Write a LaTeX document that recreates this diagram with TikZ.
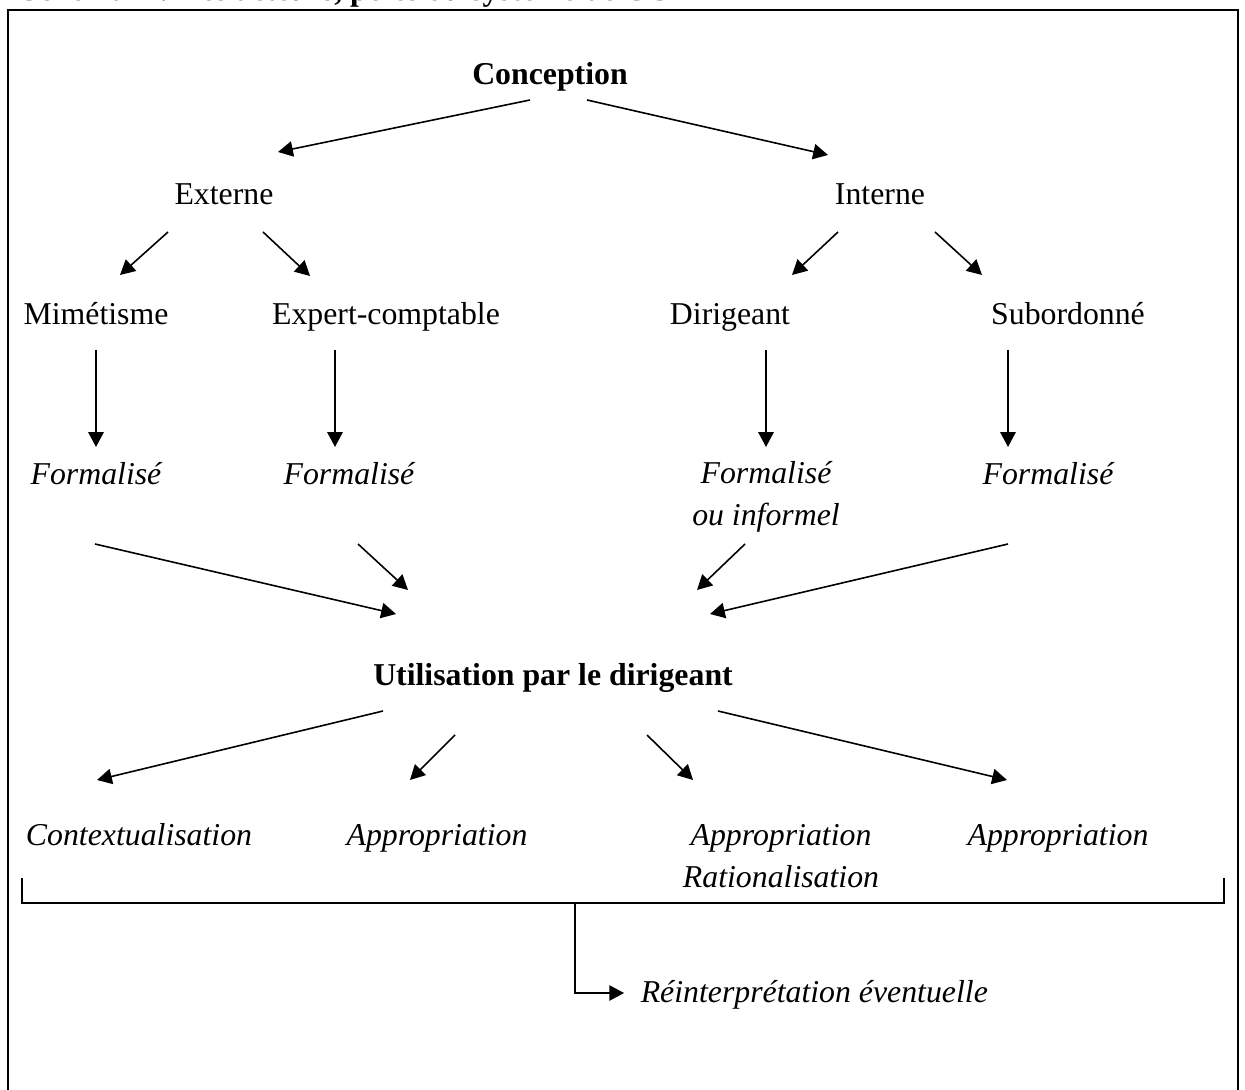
\documentclass[tikz,border=0pt]{standalone}
\usepackage{fontspec}
\setmainfont{Liberation Serif}
\usetikzlibrary{arrows.meta}

\begin{document}
\begin{tikzpicture}[x=0.3774pt, y=-0.3774pt, line width=0.6pt,
    every node/.style={inner sep=0pt, font=\fontsize{12pt}{15.8pt}\selectfont},
    actor/.style={text height=9.5pt, text depth=2.5pt},
    head/.style={actor, font=\fontsize{12pt}{15.8pt}\selectfont\bfseries},
    mode/.style={actor, font=\fontsize{12pt}{15.8pt}\selectfont\itshape},
    modes/.style={align=center, font=\fontsize{12pt}{15.8pt}\selectfont\itshape},
    >={Triangle[length=5.6pt,width=5.8pt]}]
        \useasboundingbox (0,0) rectangle (1245,1090);
        \clip (0,0) rectangle (1245,1090);
        \node[overlay, anchor=base west, font=\fontsize{12pt}{15.8pt}\selectfont\bfseries] (titre) at (20,0.5) {Schéma 1 : Les acteurs, pôles du système de CG};
        \draw[line width=0.75pt] (8,1095) -- (8,10) -- (1238,10) -- (1238,1095);
        % conception
        \node[head] (conc) at (550,75) {Conception};
        \node[actor] (ext) at (224,195) {Externe};
        \node[actor] (int) at (880,195) {Interne};
        \node[actor] (mim) at (96,315) {Mimétisme};
        \node[actor] (exp) at (386,315) {Expert-comptable};
        \node[actor] (dir) at (730,315) {Dirigeant};
        \node[actor] (sub) at (1068,315) {Subordonné};
        \node[mode] (fm1) at (96,475) {Formalisé};
        \node[mode] (fm2) at (349,475) {Formalisé};
        \node[modes] (fm3) at (766,497) {Formalisé\\ou informel};
        \node[mode] (fm4) at (1048,475) {Formalisé};
        \draw[->] ([shift={(-20,25)}]conc.center) -- ([shift={(54,-43)}]ext.center);
        \draw[->] ([shift={(37,25)}]conc.center) -- ([shift={(-52,-40)}]int.center);
        \draw[->] ([shift={(-56,37)}]ext.center) -- ([shift={(24,-40)}]mim.center);
        \draw[->] ([shift={(39,37)}]ext.center) -- ([shift={(-76,-39)}]exp.center);
        \draw[->] ([shift={(-42,37)}]int.center) -- ([shift={(62,-40)}]dir.center);
        \draw[->] ([shift={(55,37)}]int.center) -- ([shift={(-86,-40)}]sub.center);
        \draw[->] ([shift={(0,35)}]mim.center) -- ([shift={(0,-28)}]fm1.center);
        \draw[->] ([shift={(-51,35)}]exp.center) -- ([shift={(-14,-28)}]fm2.center);
        \draw[->] ([shift={(36,35)}]dir.center) -- ([shift={(0,-50)}]fm3.center);
        \draw[->] ([shift={(-60,35)}]sub.center) -- ([shift={(-40,-28)}]fm4.center);
        % utilisation
        \node[head] (util) at (553,676) {Utilisation par le dirigeant};
        \draw[->] ([shift={(-1,69)}]fm1.center) -- ([shift={(-157,-62)}]util.center);
        \draw[->] ([shift={(9,69)}]fm2.center) -- ([shift={(-145,-86)}]util.center);
        \draw[->] ([shift={(-21,47)}]fm3.center) -- ([shift={(144,-86)}]util.center);
        \draw[->] ([shift={(-40,69)}]fm4.center) -- ([shift={(157,-62)}]util.center);
        \node[mode] (ctx) at (139,836) {Contextualisation};
        \node[mode] (app1) at (437,836) {Appropriation};
        \node[modes] (app2) at (781,856) {Appropriation\\Rationalisation};
        \node[mode] (app3) at (1058,836) {Appropriation};
        \draw[->] ([shift={(-170,35)}]util.center) -- ([shift={(-42,-56)}]ctx.center);
        \draw[->] ([shift={(-98,59)}]util.center) -- ([shift={(-27,-56)}]app1.center);
        \draw[->] ([shift={(94,59)}]util.center) -- ([shift={(-88,-76)}]app2.center);
        \draw[->] ([shift={(165,35)}]util.center) -- ([shift={(-51,-56)}]app3.center);
        % reinterpretation
        \coordinate (bl) at (22,878);
        \coordinate (br) at (1224,878);
        \coordinate (stem) at (575,903);
        \node[mode, anchor=west] (rei) at (640,993) {Réinterprétation éventuelle};
        \draw (bl) -- (bl |- stem) -- (br |- stem) -- (br);
        \draw[->, shorten >=6pt] (stem) |- (rei.west);
      \end{tikzpicture}
\end{document}
